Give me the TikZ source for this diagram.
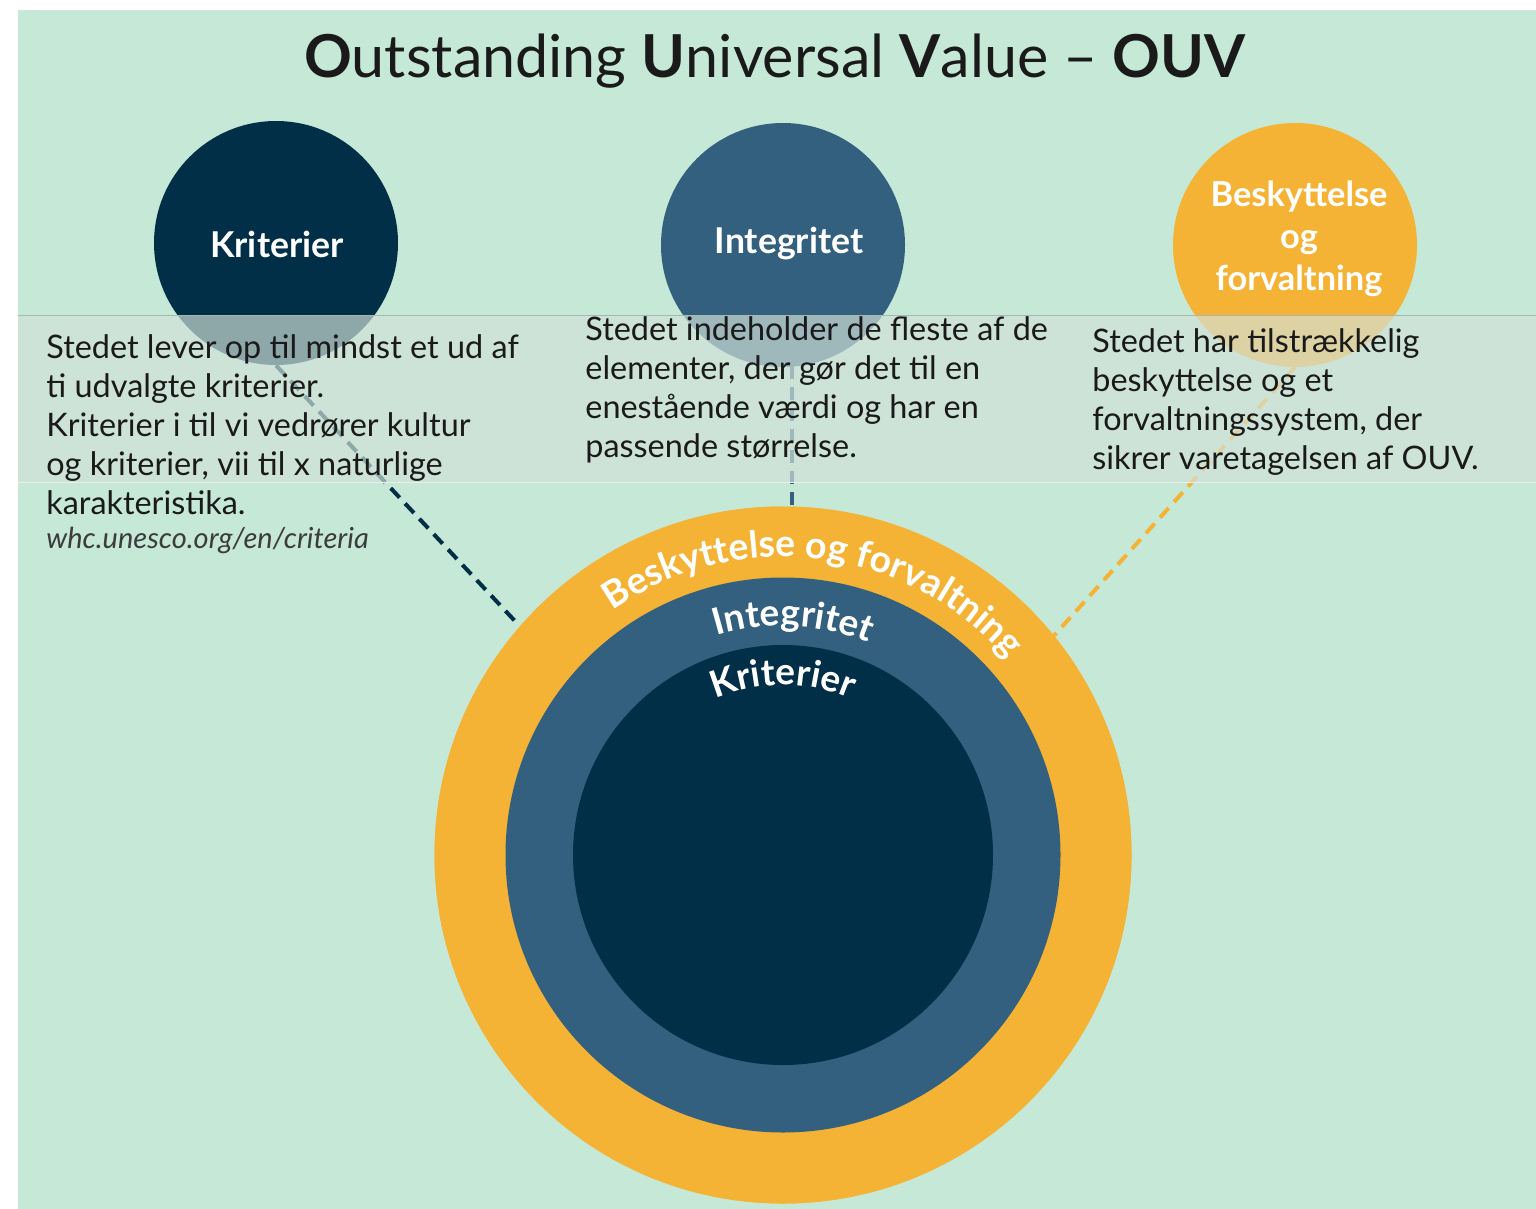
\documentclass[tikz,border=0pt]{standalone}
\usepackage{fontspec}
\setmainfont{Lato}
\usetikzlibrary{decorations.text,calc}
\definecolor{bgg}{HTML}{C6E8D7}
\definecolor{navy}{HTML}{002F47}
\definecolor{midblue}{HTML}{33607F}
\definecolor{orng}{HTML}{F5B335}
\definecolor{bandc}{HTML}{D2E2D9}
\definecolor{txt}{HTML}{1A1A1A}
\tikzset{
  topcirc/.style={circle, minimum size=122pt, inner sep=0pt},
  circlabel/.style={text=white, font=\bfseries\fontsize{17.8}{21}\selectfont, align=center, inner sep=0pt},
  dashline/.style={line width=2pt, dash pattern=on 6.5pt off 4pt},
  body/.style={anchor=base west, align=left, inner sep=0pt, text=txt, font=\fontsize{16.2}{19.5}\selectfont},
  ring/.style={circle, inner sep=0pt},
}
\begin{document}
\begin{tikzpicture}[x=0.5pt,y=0.5pt]
\useasboundingbox (0,0) rectangle (1536,-1209);
\fill[white] (0,0) rectangle (1536,-1209);
\fill[bgg] (18,-10) rectangle (1536,-1209);
% title
\node[anchor=base, inner sep=0pt, text=txt, font=\fontsize{29.6}{36}\selectfont] (title) at (775,-78)
  {{\bfseries O}utstanding {\bfseries U}niversal {\bfseries V}alue – {\bfseries OUV}};
% big rings (positions needed for connectors)
\node[ring, minimum size=348.5pt, fill=orng] (outer) at (783,-855) {};
\node[ring, minimum size=277.5pt, fill=midblue] (mid) at (783,-855) {};
\node[ring, minimum size=210pt, fill=navy] (inner) at (783,-855) {};
% small circles
\node[topcirc, fill=navy] (krit) at (276,-243) {};
\node[topcirc, fill=midblue] (integ) at (783,-245) {};
\node[topcirc, fill=orng] (besk) at (1295,-245) {};
% dashed connectors
\draw[dashline, navy] (krit.south) -- (outer.139.4);
\draw[dashline, midblue] ($(integ.south)+(9,1)$) -- ($(outer.north)+(9,0)$);
\draw[dashline, orng] (besk.south) -- (outer.39.5);
% redraw rings on top of connector ends
\fill[orng] (outer.center) circle[radius=348.5];
\fill[midblue] (outer.center) circle[radius=277.5];
\fill[navy] (outer.center) circle[radius=210];
% circle labels
\node[circlabel] (kritl) at (277,-244) {Kriterier};
\node[circlabel] (integl) at (789,-244) {Integritet};
\node[circlabel, font=\bfseries\fontsize{17.2}{21}\selectfont] (beskl) at (1299,-239) {Beskyttelse\\og\\forvaltning};
% band
\fill[bandc, fill opacity=0.68] (18,-315) rectangle (1536,-482);
\draw[gray!45!bgg, line width=0.5pt] (18,-315) -- (1536,-315);
\draw[white!50!bandc, line width=0.5pt] (18,-482) -- (1536,-482);
% body texts (anchor = baseline of last line)
\node[body] (t1) at (46,-514) {Stedet lever op til mindst et ud af\\ti udvalgte kriterier.\\Kriterier i til vi vedrører kultur\\og kriterier, vii til x naturlige\\karakteristika.};
\node[anchor=base west, inner sep=0pt, text=txt!85, font=\itshape\fontsize{14.5}{17}\selectfont] (url) at (46,-548) {whc.unesco.org/en/criteria};
\node[body] (t2) at (585,-457) {Stedet indeholder de fleste af de\\elementer, der gør det til en\\enestående værdi og har en\\passende størrelse.};
\node[body] (t3) at (1092,-469) {Stedet har tilstrækkelig\\beskyttelse og et\\forvaltningssystem, der\\sikrer varetagelsen af OUV.};
% arc texts
\path[decorate, decoration={text along path, text align=center,
  text={|\color{white}\bfseries\fontsize{18.7}{22}\selectfont|Beskyttelse og forvaltning}}]
  ($(outer.center)+(143:298)$) arc[start angle=143, end angle=23, radius=298];
\path[decorate, decoration={text along path, text align=center,
  text={|\color{white}\bfseries\fontsize{18.5}{22}\selectfont|Integritet}}]
  ($(outer.center)+(147.5:229)$) arc[start angle=147.5, end angle=27.5, radius=229];
\path[decorate, decoration={text along path, text align=center,
  text={|\color{white}\bfseries\fontsize{18.5}{22}\selectfont|Kriterier}}]
  ($(outer.center)+(150:170)$) arc[start angle=150, end angle=30, radius=170];
\end{tikzpicture}
\end{document}
